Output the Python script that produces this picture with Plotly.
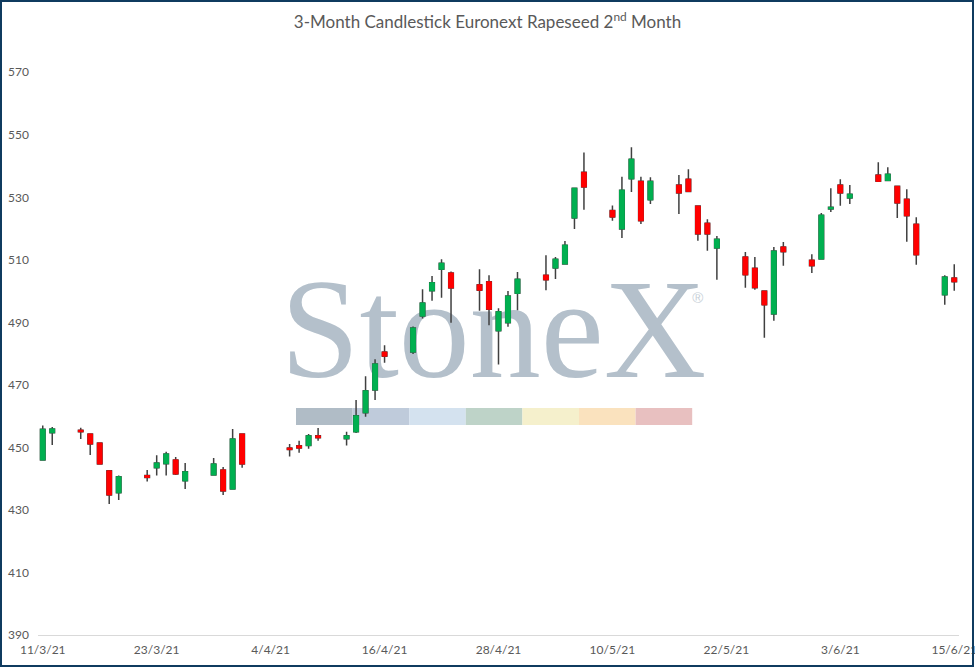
import plotly.graph_objects as go

# daily OHLC, Euronext rapeseed 2nd month (EUR/t)
dates = ["2021-03-11", "2021-03-12", "2021-03-15", "2021-03-16", "2021-03-17", "2021-03-18",
         "2021-03-19", "2021-03-22", "2021-03-23", "2021-03-24", "2021-03-25", "2021-03-26",
         "2021-03-29", "2021-03-30", "2021-03-31", "2021-04-01", "2021-04-06", "2021-04-07",
         "2021-04-08", "2021-04-09", "2021-04-12", "2021-04-13", "2021-04-14", "2021-04-15",
         "2021-04-16", "2021-04-19", "2021-04-20", "2021-04-21", "2021-04-22", "2021-04-23",
         "2021-04-26", "2021-04-27", "2021-04-28", "2021-04-29", "2021-04-30", "2021-05-03",
         "2021-05-04", "2021-05-05", "2021-05-06", "2021-05-07", "2021-05-10", "2021-05-11",
         "2021-05-12", "2021-05-13", "2021-05-14", "2021-05-17", "2021-05-18", "2021-05-19",
         "2021-05-20", "2021-05-21", "2021-05-24", "2021-05-25", "2021-05-26", "2021-05-27",
         "2021-05-28", "2021-05-31", "2021-06-01", "2021-06-02", "2021-06-03", "2021-06-04",
         "2021-06-07", "2021-06-08", "2021-06-09", "2021-06-10", "2021-06-11", "2021-06-14",
         "2021-06-15"]

opens = [446.0, 454.7, 455.5, 454.3, 451.4, 442.5, 435.5, 441.0, 443.5, 444.8, 446.0, 439.3,
         441.2, 442.8, 436.7, 454.3, 449.8, 450.5, 450.6, 453.7, 452.8, 455.0, 461.1, 468.4,
         480.5, 480.5, 492.0, 500.1, 507.0, 505.8, 502.0, 503.0, 487.3, 489.9, 499.3, 505.1,
         507.4, 508.7, 523.4, 538.0, 525.8, 519.9, 535.9, 535.1, 529.2, 533.9, 535.8, 527.2,
         521.7, 513.8, 510.9, 507.3, 500.0, 492.7, 514.1, 509.9, 510.3, 526.3, 533.9, 529.8,
         537.1, 535.4, 533.5, 529.4, 521.4, 498.8, 504.2]
highs = [457.0, 456.5, 456.3, 454.5, 451.5, 442.8, 441.0, 442.8, 447.5, 448.6, 446.9, 445.0,
         446.6, 443.7, 455.9, 454.4, 451.1, 452.1, 454.3, 456.2, 455.0, 465.2, 472.8, 478.2,
         482.7, 488.7, 500.6, 504.8, 510.2, 506.3, 507.0, 505.1, 494.5, 500.0, 506.1, 511.5,
         510.9, 516.0, 533.1, 544.3, 527.4, 536.6, 546.0, 536.6, 536.4, 537.1, 539.0, 527.3,
         523.0, 517.6, 512.5, 510.9, 500.3, 514.1, 515.7, 511.8, 525.0, 532.9, 535.8, 533.9,
         541.2, 539.6, 533.6, 532.6, 523.6, 505.1, 508.6]
lows = [445.7, 450.8, 452.7, 447.6, 444.6, 431.9, 433.2, 439.1, 441.0, 441.0, 441.2, 436.7,
        441.0, 434.8, 436.5, 443.5, 447.1, 448.3, 449.6, 452.1, 450.6, 454.6, 459.8, 465.2,
        477.1, 479.9, 491.2, 496.9, 497.9, 489.9, 493.7, 489.1, 476.5, 488.6, 493.9, 500.3,
        503.9, 508.5, 519.9, 526.0, 522.5, 517.0, 531.7, 521.5, 527.9, 524.7, 531.7, 516.1,
        512.9, 503.6, 501.1, 500.4, 485.1, 490.5, 508.1, 505.8, 510.2, 525.3, 527.3, 527.9,
        534.9, 535.1, 523.4, 515.8, 508.4, 495.6, 500.1]
closes = [455.8, 455.9, 455.0, 451.1, 444.7, 434.8, 440.6, 440.4, 445.0, 447.9, 441.5, 442.2,
          444.7, 436.1, 452.7, 444.7, 449.3, 449.8, 453.7, 453.1, 453.7, 460.1, 468.1, 476.7,
          479.2, 488.2, 496.2, 502.7, 508.9, 501.0, 500.3, 494.2, 493.4, 498.4, 503.8, 503.6,
          510.2, 514.7, 532.9, 533.3, 523.7, 532.3, 542.2, 522.5, 535.1, 531.4, 531.9, 518.3,
          518.3, 516.6, 505.2, 501.1, 495.6, 512.8, 512.6, 508.1, 524.3, 526.8, 531.4, 531.0,
          535.1, 537.4, 528.2, 524.1, 511.6, 504.5, 503.0]

tick_dates = ["2021-03-11", "2021-03-23", "2021-04-04", "2021-04-16", "2021-04-28",
              "2021-05-10", "2021-05-22", "2021-06-03", "2021-06-15"]
tick_text = ["11/3/21", "23/3/21", "4/4/21", "16/4/21", "28/4/21",
             "10/5/21", "22/5/21", "3/6/21", "15/6/21"]
y_ticks = [390, 410, 430, 450, 470, 490, 510, 530, 550, 570]

GREEN = "#00b050"
RED = "#ff0000"
WICK = "#404040"
GREY = "#595959"
FONT = "Lato"

body_top = [max(o, c) for o, c in zip(opens, closes)]
body_bot = [min(o, c) for o, c in zip(opens, closes)]

fig = go.Figure()

# wicks (full range, dark line)
fig.add_trace(go.Candlestick(
    x=dates, open=opens, high=highs, low=lows, close=closes,
    increasing=dict(line=dict(color=WICK, width=1.5), fillcolor=WICK),
    decreasing=dict(line=dict(color=WICK, width=1.5), fillcolor=WICK),
    showlegend=False, hoverinfo="skip",
))
# coloured bodies on top
fig.add_trace(go.Candlestick(
    x=dates, open=opens, high=body_top, low=body_bot, close=closes,
    increasing=dict(line=dict(color=GREEN, width=1), fillcolor=GREEN),
    decreasing=dict(line=dict(color=RED, width=1), fillcolor=RED),
    showlegend=False,
))

# watermark (behind the candles)
shapes = []
shapes.append(dict(
    type="rect", xref="paper", yref="paper", layer="below",
    x0=0.281, x1=0.708, y0=0.43, y1=0.65,
    line=dict(width=0), fillcolor="rgba(0,0,0,0)",
    label=dict(text="StoneX", textposition="middle center",
               font=dict(family="Liberation Serif", size=142, color="#b4c0cb")),
))
shapes.append(dict(
    type="rect", xref="paper", yref="paper", layer="below",
    x0=0.704, x1=0.729, y0=0.55, y1=0.59,
    line=dict(width=0), fillcolor="rgba(0,0,0,0)",
    label=dict(text="®", textposition="middle center",
               font=dict(family="Liberation Sans", size=15, color="#c8d0d8")),
))
band_colors = ["#b0bcc6", "#bfcbdb", "#d4e2ef", "#bed3c8", "#f5f0cc", "#fae2be", "#e8c0c0"]
bx0 = (296 - 38) / 921
bw = 56.6 / 921
for i, col in enumerate(band_colors):
    shapes.append(dict(
        type="rect", xref="paper", yref="paper", layer="below",
        x0=bx0 + i * bw, x1=bx0 + (i + 1) * bw,
        y0=(635 - 425) / 594, y1=(635 - 408) / 594,
        line=dict(width=0), fillcolor=col,
    ))
# outer chart border
shapes.append(dict(
    type="rect", xref="paper", yref="paper", layer="above",
    x0=(1 - 38) / 921, x1=(973 - 38) / 921,
    y0=(635 - 666) / 594, y1=(635 - 1) / 594,
    line=dict(color="#0f3b5f", width=2), fillcolor="rgba(0,0,0,0)",
))

fig.update_layout(
    width=975, height=668,
    margin=dict(l=38, r=16, t=41, b=33, autoexpand=False),
    paper_bgcolor="white", plot_bgcolor="white",
    font=dict(family=FONT, color=GREY, size=12),
    title=dict(text="3-Month Candlestick Euronext Rapeseed 2<sup>nd</sup> Month",
               x=0.5, xanchor="center", xref="container", y=0.967, yanchor="middle",
               font=dict(family=FONT, size=17, color=GREY)),
    boxgap=0.3,
    shapes=shapes,
    showlegend=False,
)
fig.update_xaxes(
    type="date", range=["2021-03-10 12:00", "2021-06-15 12:00"],
    rangeslider=dict(visible=False),
    tickvals=tick_dates, ticktext=tick_text, tickangle=0,
    showgrid=False, zeroline=False, automargin=False,
    showline=True, linecolor="#d9d9d9", linewidth=1,
    ticks="", tickfont=dict(size=12, color=GREY), ticklabelstandoff=4,
    ticklabeloverflow="allow",
)
fig.update_yaxes(
    range=[390, 580], tickvals=y_ticks, automargin=False,
    showgrid=False, zeroline=False, showline=False,
    ticks="", tickfont=dict(size=12, color=GREY), ticklabelstandoff=8,
)

# drop the browser's default body margin so the chart sits at the page corner
page_js = (
    "document.body.style.margin='0';"
    "document.body.style.overflow='hidden';"
)
fig.write_html("out.html", config={"displayModeBar": False}, post_script=page_js)
